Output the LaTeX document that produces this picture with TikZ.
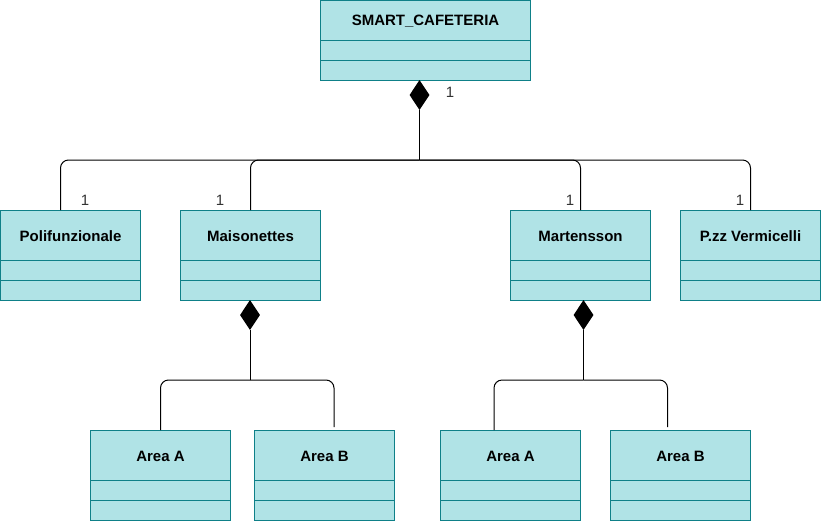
\documentclass[tikz,border=0pt]{standalone}
\usepackage{fontspec}
\setmainfont{Liberation Sans}
\usetikzlibrary{shapes.geometric}
\definecolor{clsfill}{HTML}{B0E3E6}
\definecolor{clsdraw}{HTML}{0E8088}
\definecolor{multc}{HTML}{333333}
\tikzset{
  cls/.style={draw=clsdraw, fill=clsfill, line width=1pt, rectangle, inner sep=0pt},
  clsline/.style={draw=clsdraw, line width=1pt},
  clstext/.style={font=\fontsize{15}{17}\selectfont\bfseries, text=black, inner sep=0pt},
  comp/.style={diamond, fill=black, draw=none, minimum width=20pt, minimum height=30pt, inner sep=0pt},
  conn/.style={draw=black, line width=1pt},
  branchline/.style={conn, rounded corners=8pt},
  mult/.style={font=\fontsize{15}{17}\selectfont, text=multc, inner sep=0pt}
}
\newcommand\umlclass[6]{%
  \node[cls, minimum width=#4, minimum height=#5+40, anchor=north west] (#1) at (#2,#3) {};
  \draw[clsline] ([yshift=-#5]#1.north west) -- ([yshift=-#5]#1.north east);
  \draw[clsline] ([yshift=-#5-20]#1.north west) -- ([yshift=-#5-20]#1.north east);
  \node[clstext] (#1-t) at ([yshift=-#5/2-1.5]#1.north) {#6};
}
\begin{document}
\begin{tikzpicture}[x=1pt,y=-1pt]
\useasboundingbox (0,0) rectangle (821,522);
% classes
\umlclass{top}{320}{0}{210}{40}{SMART\_CAFETERIA}
\umlclass{poly}{0}{210}{140}{50}{Polifunzionale}
\umlclass{mais}{180}{210}{140}{50}{Maisonettes}
\umlclass{mart}{510}{210}{140}{50}{Martensson}
\umlclass{verm}{680}{210}{140}{50}{P.zz Vermicelli}
\umlclass{maA}{90}{430}{140}{50}{Area A}
\umlclass{maB}{254}{430}{140}{50}{Area B}
\umlclass{mtA}{440}{430}{140}{50}{Area A}
\umlclass{mtB}{610}{430}{140}{50}{Area B}
% diamonds
\node[comp] (d0) at (419.5,95) {};
\node[comp] (d1) at (250,315) {};
\node[comp] (d2) at (583.5,315) {};
% junctions
\coordinate (j0) at (419.5,160);
\coordinate (j1) at (250,380);
\coordinate (j2) at (583.5,380);
% top level
\draw[conn] (d0.south) -- (j0);
\draw[branchline] (j0) -| ([xshift=-10pt]poly.north);
\draw[branchline] (j0) -| (mais.north);
\draw[branchline] (j0) -| (mart.north);
\draw[branchline] (j0) -| (verm.north);
% second level left
\draw[conn] (d1.south) -- (j1);
\draw[branchline] (j1) -| (maA.north);
\draw[branchline, shorten >=3pt] (j1) -| ([xshift=9.5pt]maB.north);
% second level right
\draw[conn] (d2.south) -- (j2);
\draw[branchline] (j2) -| ([xshift=-16.5pt]mtA.north);
\draw[branchline, shorten >=3pt] (j2) -| ([xshift=-13pt]mtB.north);
% multiplicities
\node[mult] (m0) at (450,92) {1};
\node[mult] (m1) at (85,200) {1};
\node[mult] (m2) at (220,200) {1};
\node[mult] (m3) at (570,200) {1};
\node[mult] (m4) at (740,200) {1};
\end{tikzpicture}
\end{document}
